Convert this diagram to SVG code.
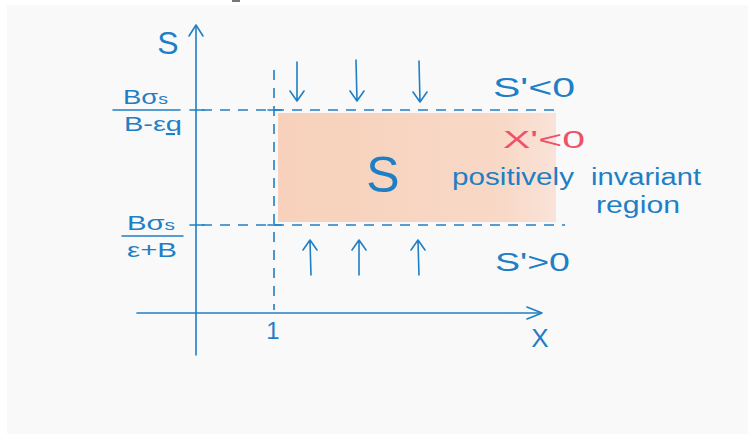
<svg xmlns="http://www.w3.org/2000/svg" width="748" height="434" viewBox="0 0 748 434">
<defs>
<style>
.ax{stroke:#1f7fc6;stroke-width:1.6;fill:none;stroke-linecap:round;stroke-linejoin:round}
.da{stroke:#1f7fc6;stroke-width:1.6;fill:none;stroke-dasharray:10 8}
.t{font-family:"Liberation Sans",Arial,sans-serif;fill:#1f7fc6}
.r{font-family:"Liberation Sans",Arial,sans-serif;fill:#f0506a}
</style>
<linearGradient id="sh" x1="0" x2="1" y1="0" y2="0">
<stop offset="0" stop-color="#f7d1bb"/>
<stop offset="0.8" stop-color="#f8d8c6"/>
<stop offset="1" stop-color="#f9e3d8"/>
</linearGradient>
</defs>
<rect x="0" y="0" width="748" height="434" fill="#ffffff"/>
<rect x="7" y="5" width="741" height="429" fill="#f9f9f9"/>
<rect x="232" y="0" width="8" height="2" fill="#777"/>
<g id="region">
<rect x="278" y="113" width="278" height="109" fill="url(#sh)"/>
</g>
<g id="connectors">
<path class="ax" d="M196,355 L196,26"/>
<path class="ax" d="M189,36 L196,25 L203,36"/>
<path class="ax" d="M137,313 L540,313"/>
<path class="ax" d="M527,307 L542,313 L527,319"/>
<path class="da" d="M274,70 L274,310"/>
<path class="da" d="M202,110 L560,110"/>
<path class="da" d="M202,225 L565,225"/>
<path class="ax" d="M190,110 L204,110 M268,110 L281,110 M190,225 L204,225 M268,225 L281,225"/>
<path class="ax" d="M297,62 L297,101 M290,91 L297,101 L304,91"/>
<path class="ax" d="M356,60 L357,101 M350,91 L357,101 L364,91"/>
<path class="ax" d="M419,61 L420,102 M413,92 L420,102 L427,92"/>
<path class="ax" d="M311,275 L310,241 M303,250 L310,240 L317,250"/>
<path class="ax" d="M359,275 L359,241 M352,250 L359,240 L366,250"/>
<path class="ax" d="M419,275 L418,241 M411,250 L418,240 L425,250"/>
<path class="ax" d="M113,110 L180,110 M122,236 L183,236"/>
</g>
<g id="labels">
<text class="t" x="168" y="54" font-size="32" text-anchor="middle">S</text>
<text class="t" x="540" y="347" font-size="26" text-anchor="middle">X</text>
<text class="t" x="273" y="339" font-size="24" text-anchor="middle">1</text>
<text class="t" x="123" y="104" font-size="21" textLength="45" lengthAdjust="spacingAndGlyphs">Bσ<tspan font-size="15">s</tspan></text>
<text class="t" x="124" y="131" font-size="21" textLength="58" lengthAdjust="spacingAndGlyphs">B-ε<tspan text-decoration="underline">q</tspan></text>
<text class="t" x="127" y="230" font-size="21" textLength="48" lengthAdjust="spacingAndGlyphs">Bσ<tspan font-size="15">s</tspan></text>
<text class="t" x="127" y="257" font-size="21" textLength="50" lengthAdjust="spacingAndGlyphs">ε+B</text>
<text class="t" x="493" y="97" font-size="27" textLength="82" lengthAdjust="spacingAndGlyphs">S'&lt;0</text>
<text class="r" x="503" y="148" font-size="24" textLength="82" lengthAdjust="spacingAndGlyphs">X'&lt;0</text>
<text class="t" x="383" y="192" font-size="50" text-anchor="middle">S</text>
<text class="t" x="452" y="185" font-size="23" textLength="122" lengthAdjust="spacingAndGlyphs">positively</text>
<text class="t" x="591" y="185" font-size="23" textLength="110" lengthAdjust="spacingAndGlyphs">invariant</text>
<text class="t" x="596" y="213" font-size="23" textLength="84" lengthAdjust="spacingAndGlyphs">region</text>
<text class="t" x="495" y="271" font-size="26" textLength="75" lengthAdjust="spacingAndGlyphs">S'&gt;0</text>
</g>
</svg>
